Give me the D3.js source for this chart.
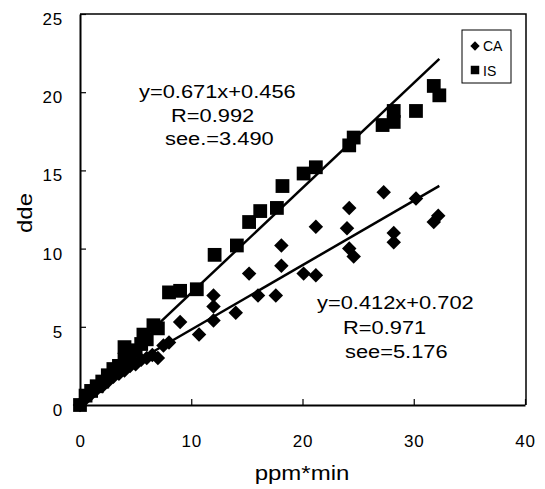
<!DOCTYPE html>
<html>
<head>
<meta charset="utf-8">
<script src="https://cdn.jsdelivr.net/npm/d3@7"></script>
<style>
  body { margin: 0; background: #fff; }
  text { font-family: "Liberation Sans", Arial, sans-serif; fill: #000; }
</style>
</head>
<body>
<div class="chart"></div>
<script>
// CA (diamonds) readings
const caX = [0, 0.5, 1, 1.5, 2, 2.5, 3, 3.5, 4, 4.5, 5, 5.5, 6, 6.5, 7, 7.5, 8, 9, 10.7, 12, 12, 12, 14, 15.2, 16, 17.6, 18.1, 18.1, 20.1, 21.2, 21.2, 24, 24.2, 24.2, 24.6, 27.3, 28.2, 28.2, 30.2, 31.8, 32.2];
const caY = [0, 0.4, 0.7, 1.0, 1.2, 1.5, 1.8, 2.0, 2.2, 2.5, 2.6, 2.9, 3.0, 3.2, 3.0, 3.8, 4.0, 5.3, 4.5, 5.4, 6.3, 7.0, 5.9, 8.4, 7.0, 7.0, 8.9, 10.2, 8.4, 8.3, 11.4, 11.3, 12.6, 10.0, 9.5, 13.6, 11.0, 10.4, 13.2, 11.7, 12.1];

// IS (squares) readings
const isX = [0, 0.5, 1, 1.5, 2, 2.5, 3, 3.5, 4, 4, 4.5, 5, 5.5, 5.7, 6, 6.6, 7, 8, 9, 10.5, 12.1, 14.1, 15.2, 16.2, 17.7, 18.2, 20.1, 21.2, 24.2, 24.6, 27.2, 28.2, 28.2, 30.2, 31.8, 32.3];
const isY = [0, 0.6, 0.9, 1.2, 1.5, 1.9, 2.3, 2.5, 3.7, 2.9, 3.1, 3.5, 3.9, 4.5, 4.2, 5.1, 4.9, 7.2, 7.3, 7.4, 9.6, 10.2, 11.7, 12.4, 12.6, 14.0, 14.8, 15.2, 16.6, 17.1, 17.9, 18.1, 18.8, 18.8, 20.4, 19.8];

const xTicks = [0, 10, 20, 30, 40];
const yTicks = [0, 5, 10, 15, 20, 25];

const fits = [
  {name: "IS", slope: 0.671, icpt: 0.456, lines: ["y=0.671x+0.456", "R=0.992", "see.=3.490"]},
  {name: "CA", slope: 0.412, icpt: 0.702, lines: ["y=0.412x+0.702", "R=0.971", "see=5.176"]}
];

const W = 545, H = 489;
const svg = d3.select(".chart").append("svg")
  .attr("width", W).attr("height", H);

const x = d3.scaleLinear().domain([0, 40]).range([80, 525]);
const y = d3.scaleLinear().domain([0, 25]).range([405, 14]);

// frame (top + right)
svg.append("path")
  .attr("d", `M${x(0)},${y(25)}H${x(40) + 1}V${y(0)}`)
  .attr("fill", "none").attr("stroke", "#000").attr("stroke-width", 1.5);

// axes
const xAxis = svg.append("g")
  .attr("transform", `translate(0,${y(0)})`)
  .call(d3.axisBottom(x).tickValues(xTicks).tickSizeInner(-6).tickSizeOuter(0).tickPadding(30));
const yAxis = svg.append("g")
  .attr("transform", `translate(${x(0)},0)`)
  .call(d3.axisLeft(y).tickValues(yTicks).tickSizeInner(-6).tickSizeOuter(0).tickPadding(17));

[xAxis, yAxis].forEach(g => {
  g.select(".domain").attr("stroke-width", 2);
  g.selectAll(".tick line").attr("stroke-width", 1.2);
  g.selectAll(".tick text")
    .attr("font-size", 17)
    .attr("letter-spacing", 0.8)
    .attr("font-family", "Liberation Sans, Arial, sans-serif");
});
yAxis.selectAll(".tick text").attr("dy", "0.62em");

// wide type, like the scanned original
svg.append("text")
  .attr("transform", "translate(302,480) scale(1.2,1)")
  .attr("text-anchor", "middle").attr("font-size", 20)
  .text("ppm*min");

svg.append("text")
  .attr("transform", "translate(32,213) rotate(-90) scale(1.2,1)")
  .attr("text-anchor", "middle").attr("font-size", 20)
  .text("dde");

// regression lines
fits.forEach(f => {
  svg.append("line")
    .attr("x1", x(0)).attr("y1", y(f.icpt))
    .attr("x2", x(32.3)).attr("y2", y(f.slope * 32.3 + f.icpt))
    .attr("stroke", "#000").attr("stroke-width", 2.5);
});

// points
const sq = d3.symbol().type(d3.symbolSquare).size(190);
const dm = d3.symbol().type(d3.symbolSquare).size(105);

svg.append("g").selectAll("path")
  .data(d3.zip(isX, isY))
  .join("path")
  .attr("d", sq)
  .attr("transform", d => `translate(${x(d[0])},${y(d[1])})`)
  .attr("fill", "#000");

svg.append("g").selectAll("path")
  .data(d3.zip(caX, caY))
  .join("path")
  .attr("d", dm)
  .attr("transform", d => `translate(${x(d[0])},${y(d[1])}) rotate(45)`)
  .attr("fill", "#000");

// annotations
const notePos = [
  [[139, 98], [171, 122], [165, 145]],
  [[317, 309], [343, 334], [345, 358]]
];
fits.forEach((f, i) => {
  f.lines.forEach((t, j) => {
    svg.append("text")
      .attr("transform", `translate(${notePos[i][j][0]},${notePos[i][j][1]}) scale(1.15,1)`)
      .attr("font-size", 19)
      .text(t);
  });
});

// legend
const leg = svg.append("g");
leg.append("rect")
  .attr("x", 462).attr("y", 30).attr("width", 49).attr("height", 53)
  .attr("fill", "#fff").attr("stroke", "#000").attr("stroke-width", 1);
leg.append("path")
  .attr("d", d3.symbol().type(d3.symbolSquare).size(44))
  .attr("transform", "translate(475,46) rotate(45)");
leg.append("text").attr("x", 483).attr("y", 51).attr("font-size", 14).text("CA");
leg.append("path")
  .attr("d", d3.symbol().type(d3.symbolSquare).size(72))
  .attr("transform", "translate(475,70)");
leg.append("text").attr("x", 483).attr("y", 76).attr("font-size", 14).text("IS");
</script>
</body>
</html>
